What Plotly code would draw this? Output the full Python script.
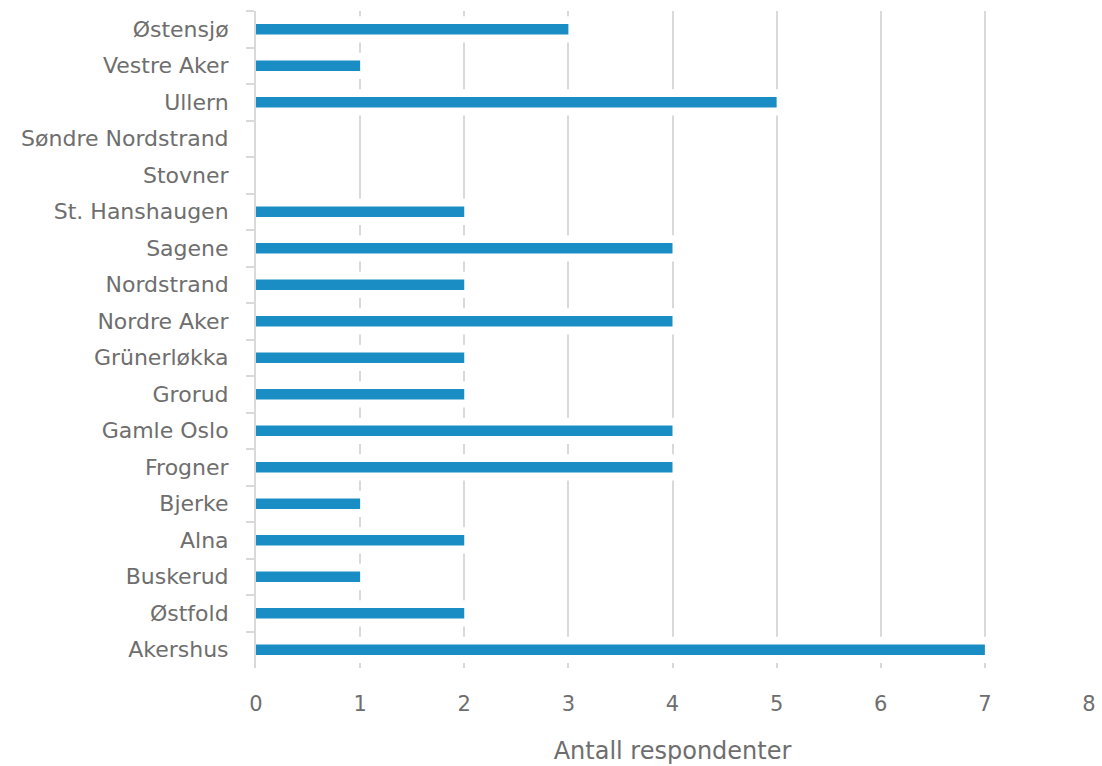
import plotly.graph_objects as go

# Districts, listed top to bottom as they appear on the chart
districts = [
    "Østensjø", "Vestre Aker", "Ullern", "Søndre Nordstrand", "Stovner",
    "St. Hanshaugen", "Sagene", "Nordstrand", "Nordre Aker", "Grünerløkka",
    "Grorud", "Gamle Oslo", "Frogner", "Bjerke", "Alna", "Buskerud",
    "Østfold", "Akershus",
]
respondents = [3, 1, 5, 0, 0, 2, 4, 2, 4, 2, 2, 4, 4, 1, 2, 1, 2, 7]
x_ticks = [0, 1, 2, 3, 4, 5, 6, 7, 8]

BAR_BLUE = "#1a8ec4"
GRID = "#d9d9d9"
TEXT = "#6e6e6e"
FONT = "DejaVu Sans"

fig = go.Figure()

# White halo behind each bar so the gridlines break around it
fig.add_trace(go.Bar(
    x=respondents, y=districts, orientation="h", width=0.5,
    marker=dict(color="white", line=dict(color="white", width=8)),
    hoverinfo="skip", showlegend=False,
))
# The bars themselves
fig.add_trace(go.Bar(
    x=respondents, y=districts, orientation="h", width=0.29,
    marker=dict(color=BAR_BLUE, line=dict(width=0)),
    showlegend=False,
))

fig.update_layout(
    width=1102, height=766,
    margin=dict(l=256, r=13, t=11, b=98),
    plot_bgcolor="white", paper_bgcolor="white",
    barmode="overlay",
    font=dict(family=FONT, color=TEXT),
)

fig.update_xaxes(
    range=[0, 8], tickvals=x_ticks, automargin=False,
    showgrid=True, gridcolor=GRID, gridwidth=2,
    zeroline=False, showline=False, ticks="",
    tickfont=dict(size=21, color=TEXT), ticklabelstandoff=21,
    title=dict(text="Antall respondenter", font=dict(size=24, color=TEXT), standoff=27),
)
fig.update_yaxes(
    autorange="reversed", categoryorder="array", categoryarray=districts,
    automargin=False,
    showgrid=False, zeroline=False,
    showline=True, linecolor=GRID, linewidth=2,
    ticks="outside", ticklen=8, tickwidth=2, tickcolor=GRID,
    tickson="boundaries",
    tickfont=dict(size=22, color=TEXT), ticklabelstandoff=21,
)

fig.write_html("out.html")
